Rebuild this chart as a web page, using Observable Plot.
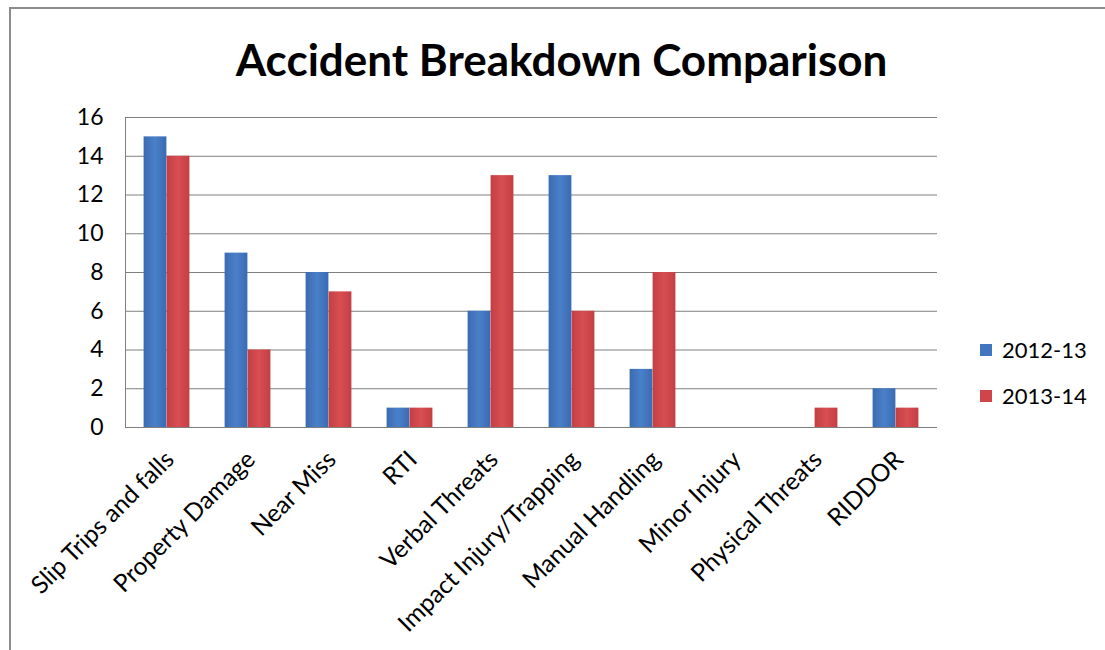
<!DOCTYPE html>
<html>
<head>
<meta charset="utf-8">
<script src="https://cdn.jsdelivr.net/npm/d3@7"></script>
<script src="https://cdn.jsdelivr.net/npm/@observablehq/plot@0.6"></script>
<style>
  body { margin: 0; background: #fff; }
  #page { position: relative; width: 1105px; height: 650px; overflow: hidden; font-family: Lato, "Open Sans", sans-serif; }
  #border { position: absolute; left: 9px; top: 7px; width: 1200px; height: 700px; border-top: 2px solid #8c8c8c; border-left: 2px solid #8c8c8c; }
  #title { position: relative; height: 100px; box-sizing: border-box; padding-top: 37px; padding-left: 18px; text-align: center; font-size: 44px; font-weight: 700; line-height: 1; color: #000; }
  #legend { position: absolute; left: 980px; top: 336px; font-size: 22px; color: #000; }
  #legend .item { display: flex; align-items: center; height: 27px; margin-bottom: 19px; }
  #legend .swatch { width: 12px; height: 12px; margin-right: 10px; }
</style>
</head>
<body>
<div id="page">
  <div id="border"></div>
  <div id="title">Accident Breakdown Comparison</div>
  <div id="chart"></div>
  <div id="legend"></div>
</div>
<script>
// Accident categories and counts per reporting year
const categories = [
  "Slip Trips and falls", "Property Damage", "Near Miss", "RTI", "Verbal Threats",
  "Impact Injury/Trapping", "Manual Handling", "Minor Injury", "Physical Threats", "RIDDOR"
];
const series = ["2012-13", "2013-14"];
const values2012 = [15, 9, 8, 1, 6, 13, 3, 0, 0, 2];
const values2013 = [14, 4, 7, 1, 13, 6, 8, 0, 1, 1];
const yTicks = [0, 2, 4, 6, 8, 10, 12, 14, 16];
const colors = ["#4175BF", "#CF4549"];

const rows2012 = categories.map((c, i) => ({ category: c, value: values2012[i] }));
const rows2013 = categories.map((c, i) => ({ category: c, value: values2013[i] }));

// Soft horizontal shading on each bar (lighter toward the middle)
const shading = () => {
  const svgNS = "http://www.w3.org/2000/svg";
  const defs = document.createElementNS(svgNS, "defs");
  const specs = [
    ["shade0", "#3A6BB2", "#4A80C9"],
    ["shade1", "#C33F44", "#D84E52"]
  ];
  for (const [id, edge, mid] of specs) {
    const g = document.createElementNS(svgNS, "linearGradient");
    g.setAttribute("id", id);
    g.setAttribute("x1", "0"); g.setAttribute("x2", "1");
    g.setAttribute("y1", "0"); g.setAttribute("y2", "0");
    [[0, edge], [0.5, mid], [1, edge]].forEach(([o, c]) => {
      const s = document.createElementNS(svgNS, "stop");
      s.setAttribute("offset", o);
      s.setAttribute("stop-color", c);
      g.appendChild(s);
    });
    defs.appendChild(g);
  }
  return defs;
};

const chart = Plot.plot({
  width: 1105,
  height: 550,
  marginLeft: 125,
  marginRight: 168,
  marginTop: 17,
  marginBottom: 223,
  style: { fontFamily: "Lato, 'Open Sans', sans-serif", fontSize: "22px", color: "#000", background: "transparent", overflow: "visible" },
  x: { domain: categories, padding: 0, axis: null },
  y: { domain: [0, 16], axis: null },
  marks: [
    shading,
    Plot.ruleY(yTicks, { stroke: "#7f7f7f", strokeWidth: 1, strokeOpacity: 1 }),
    Plot.frame({ anchor: "left", stroke: "#7f7f7f", strokeOpacity: 1 }),
    Plot.barY(rows2012, { x: "category", y: "value", fill: "url(#shade0)", insetLeft: 17.6, insetRight: 40.6 }),
    Plot.barY(rows2013, { x: "category", y: "value", fill: "url(#shade1)", insetLeft: 40.6, insetRight: 17.6 }),
    Plot.axisY({ ticks: yTicks, tickSize: 0, tickPadding: 22, label: null, fontSize: 23 }),
    Plot.axisX({ tickRotate: -45, tickSize: 0, tickPadding: 28, dx: 3, label: null, fontSize: 24.5, textAnchor: "end" })
  ]
});
document.getElementById("chart").appendChild(chart);

// Legend: one swatch per series
const legend = d3.select("#legend");
series.forEach((s, i) => {
  const item = legend.append("div").attr("class", "item");
  item.append("div").attr("class", "swatch").style("background", colors[i]);
  item.append("span").text(s);
});
</script>
</body>
</html>
